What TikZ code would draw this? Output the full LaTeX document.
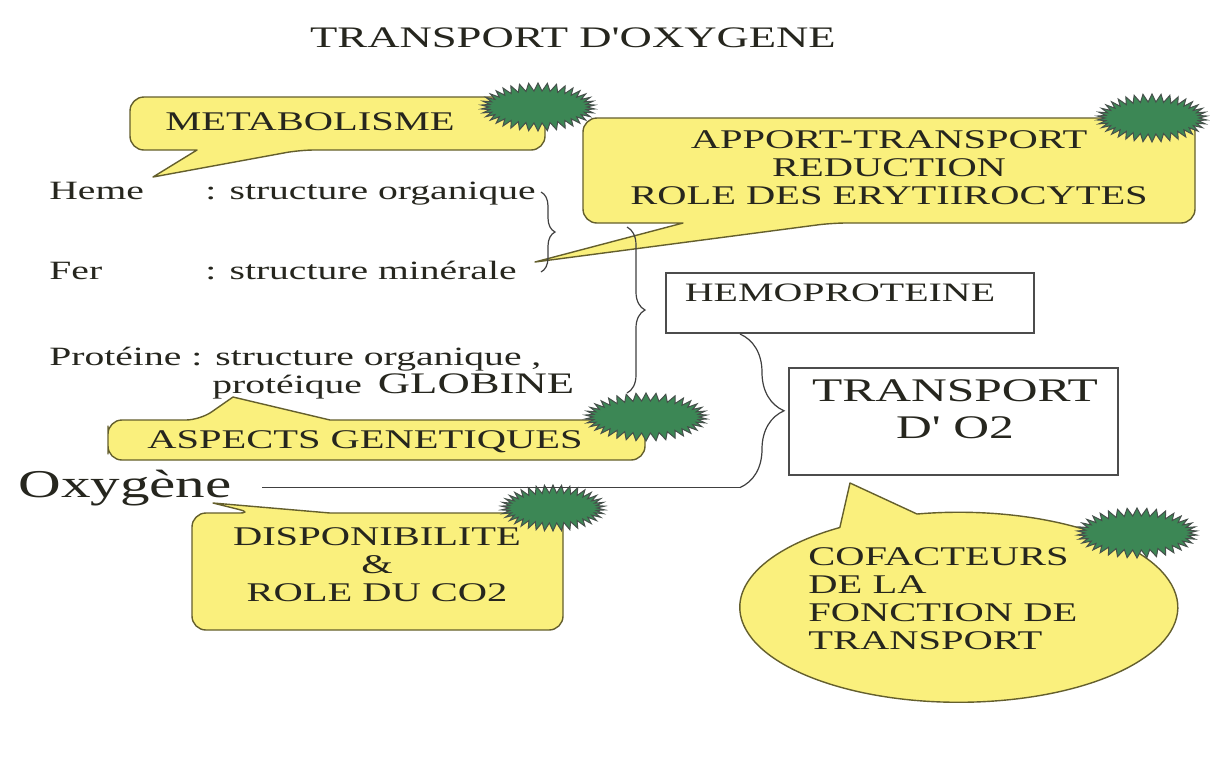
\documentclass[tikz,border=0pt]{standalone}
\usepackage{fontspec}
\setmainfont{Liberation Serif}[FakeStretch=1.5, Ligatures=TeXOff]
\usepackage{tikz}
\usetikzlibrary{shapes.symbols, decorations.pathreplacing}
\definecolor{bubbleyellow}{RGB}{250,240,125}
\definecolor{bubbleedge}{RGB}{100,95,45}
\definecolor{burstgreen}{RGB}{60,135,85}
\definecolor{burstedge}{RGB}{70,80,75}
\definecolor{inkgray}{RGB}{38,38,30}

\begin{document}
\begin{tikzpicture}[x=0.5pt, y=-0.5pt]
\tikzstyle{bubble}=[fill=bubbleyellow, draw=bubbleedge, line width=0.7pt, line join=round]
\tikzstyle{burst}=[starburst, starburst points=38, starburst point height=4pt, random starburst=0, fill=burstgreen, draw=burstedge, line width=0.5pt, inner sep=0pt, minimum width=57pt, minimum height=24pt]
\tikzstyle{bubbletext}=[font=\fontsize{13.5}{14}\selectfont, text=inkgray, align=center, inner sep=0pt]
\tikzstyle{item}=[font=\fontsize{13.2}{14}\selectfont, text=inkgray, anchor=base west, inner sep=0pt]
\tikzstyle{frame}=[draw=black!70, line width=0.6pt]
\tikzstyle{link}=[draw=black!75, line width=0.6pt]
\tikzstyle{curly}=[link, decorate]

\useasboundingbox (0,0) rectangle (1215,773);
\fill[white] (0,0) rectangle (1215,773);

\node[font=\fontsize{14.9}{16}\selectfont, text=inkgray] (title) at (573,38) {TRANSPORT D'OXYGENE};

% callouts
\draw[bubble] (130,124) [rounded corners=7pt] -- (130,97) -- (545,97) -- (545,150) -- (300,150) [sharp corners] -- (153,177) -- (197,150) [rounded corners=7pt] -- (130,150) -- cycle;
\draw[bubble] (583,170) [rounded corners=7pt] -- (583,118) -- (1195,118) -- (1195,223) -- (832,223) [sharp corners] -- (535,262) -- (683,223) [rounded corners=7pt] -- (583,223) -- cycle;
\draw[bubble] (108,440) [rounded corners=7pt] -- (108,420) -- (200,420) [sharp corners] -- (233,397) -- (330,420) [rounded corners=7pt] -- (645,420) -- (645,460) -- (108,460) -- cycle;
\draw[bubble] (192,570) [rounded corners=7pt] -- (192,513) -- (253,513) [sharp corners] -- (213,503) -- (330,513) [rounded corners=7pt] -- (563,513) -- (563,630) -- (192,630) -- cycle;
\draw[bubble] (917,514) arc[start angle=-101, end angle=237.1, x radius=219, y radius=95] -- (850,483) -- cycle;

\node[burst] (b1) at (538,107) {};
\node[burst, minimum width=55pt] (b2) at (1152,118) {};
\node[burst, minimum width=61pt] (b3) at (646,417) {};
\node[burst, minimum width=52pt, minimum height=23pt] (b4) at (553,508) {};
\node[burst, minimum width=60pt, minimum height=25pt] (b5) at (1137,533) {};

\node[bubbletext] (metab) at (310,122) {METABOLISME};
\node[bubbletext] (apport) at (889,168) {APPORT-TRANSPORT\\REDUCTION\\ROLE DES ERYTIIROCYTES};
\node[bubbletext] (aspects) at (365,442) {ASPECTS GENETIQUES};
\node[bubbletext] (dispo) at (377,565) {DISPONIBILITE\\\&\\ROLE DU CO2};
\node[bubbletext, align=left, anchor=west] (cofact) at (808,599) {COFACTEURS\\DE LA\\FONCTION DE\\TRANSPORT};

% left column
\node[item] (heme) at (49,199) {Heme};
\node[item] (hemeS) at (205,199) {: structure organique};
\node[item] (fer) at (49,279) {Fer};
\node[item] (ferS) at (205,279) {: structure minérale};
\node[item] (prot) at (49,365) {Protéine : structure organique ,};
\node[item] (protS) at (212,393) {protéique\hspace{8pt}{\fontsize{14.9}{15}\selectfont GLOBINE}};
\node[item, font=\fontsize{19.7}{21}\selectfont] (oxy) at (18,497) {Oxygène};

% boxes
\node[frame, minimum width=184pt, minimum height=30pt] (hemo) at (850,303) {};
\node[font=\fontsize{13.3}{14}\selectfont, text=inkgray, inner sep=0pt] (hemot) at (840,293) {HEMOPROTEINE};
\node[frame, minimum width=164.5pt, minimum height=53.5pt] (tro2) at (953.5,421.5) {};
\node[font=\fontsize{16.5}{18.5}\selectfont, text=inkgray, align=center, inner sep=0pt] (tro2t) at (955,409) {TRANSPORT\\D' O2};

% braces
\coordinate (sbT) at (541,192);
\coordinate (sbB) at (541,272);
\coordinate (bbT) at (627,227);
\coordinate (bbB) at (627,393);
\coordinate (tbT) at (740,334);
\coordinate (tbB) at (tbT |- oxy.east);
\draw[curly, decoration={brace, amplitude=7pt}] (sbT) -- (sbB);
\draw[curly, decoration={brace, amplitude=9pt}] (bbT) -- (bbB);
\draw[curly, decoration={brace, amplitude=22pt}] (tbT) -- (tbB);
\draw[link] ([xshift=15pt]oxy.east) -- (tbB);

\end{tikzpicture}
\end{document}
